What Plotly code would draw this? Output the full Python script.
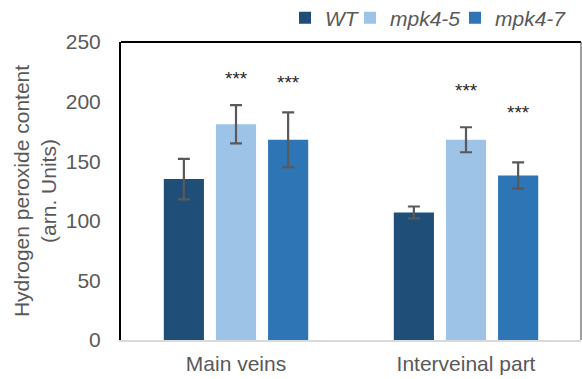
import plotly.graph_objects as go

categories = ["Main veins", "Interveinal part"]
series_names = ["WT", "mpk4-5", "mpk4-7"]
values = {
    "WT": [135, 107],
    "mpk4-5": [181, 168],
    "mpk4-7": [168, 138],
}
errors = {
    "WT": [17, 5],
    "mpk4-5": [16, 10.5],
    "mpk4-7": [23, 11],
}
# significance marks: (series, category index, y position of marks)
star_series = ["mpk4-5", "mpk4-7", "mpk4-5", "mpk4-7"]
star_cat = [0, 0, 1, 1]
star_y = [219.5, 216, 209.5, 190.5]
y_ticks = [0, 50, 100, 150, 200, 250]

colors = {"WT": "#1F4E79", "mpk4-5": "#9DC3E6", "mpk4-7": "#2E75B6"}
FONT = "Liberation Sans, Arial, sans-serif"
GRAY = "#595959"
W, H = 582, 379

# legend text start positions (px) for each series
legend_text_x = [325, 390, 495]
legend_ids = ["legend", "legend2", "legend3"]

fig = go.Figure()
for name, lid in zip(series_names, legend_ids):
    fig.add_trace(go.Bar(
        name=name, x=categories, y=values[name],
        marker=dict(color=colors[name], line=dict(width=0)),
        error_y=dict(type="data", array=errors[name], color=GRAY, thickness=2.2, width=6),
        offsetgroup=name, legend=lid,
    ))

bargap = 0.32
slot = (1 - bargap) / 3
for s, c, yv in zip(star_series, star_cat, star_y):
    idx = series_names.index(s)
    xoff = -((1 - bargap) / 2) + slot * (idx + 0.5)
    fig.add_annotation(
        x=c + xoff, y=yv, xref="x", yref="y", text="***", showarrow=False,
        font=dict(family=FONT, size=19, color="#262626"), yanchor="middle",
    )

legend_common = dict(
    orientation="h", yref="container", xref="container",
    y=1 - 18 / H, yanchor="middle", xanchor="left",
    font=dict(family=FONT, size=21, color=GRAY, style="italic"),
    bgcolor="rgba(0,0,0,0)", borderwidth=0,
)
layout_legends = {}
for lid, tx in zip(legend_ids, legend_text_x):
    layout_legends[lid] = dict(legend_common, x=(tx - 40) / W)

fig.update_layout(
    width=W, height=H,
    margin=dict(l=121, r=1, t=42, b=39, autoexpand=False),
    plot_bgcolor="white", paper_bgcolor="white",
    barmode="group", bargap=bargap, bargroupgap=0.23,
    font=dict(family=FONT, size=21, color=GRAY),
    showlegend=True,
    **layout_legends,
)
fig.update_yaxes(
    range=[0, 250], tickvals=y_ticks, showgrid=False, zeroline=False,
    showline=True, linecolor="black", linewidth=2, ticks="", automargin=False,
    ticklabelstandoff=14, tickfont=dict(family=FONT, size=21, color=GRAY),
    title=dict(text="Hydrogen peroxide content<br>(arn. Units)",
               font=dict(family=FONT, size=21, color=GRAY), standoff=3),
)
fig.update_xaxes(
    type="category", showgrid=False, showline=True, linecolor="#D9D9D9", linewidth=2,
    ticks="", automargin=False, ticklabelstandoff=4,
    tickfont=dict(family=FONT, size=21, color=GRAY),
)
# plot frame: black top edge, dark grey right edge
fig.add_shape(type="line", xref="paper", yref="paper", x0=0, x1=1, y0=1, y1=1,
              line=dict(color="black", width=2), layer="above")
fig.add_shape(type="line", xref="paper", yref="paper", x0=1, x1=1, y0=0, y1=1,
              line=dict(color="#404040", width=1), layer="above")

fig.write_html("out.html", config={"displayModeBar": False},
               post_script="document.body.style.margin='0';")
